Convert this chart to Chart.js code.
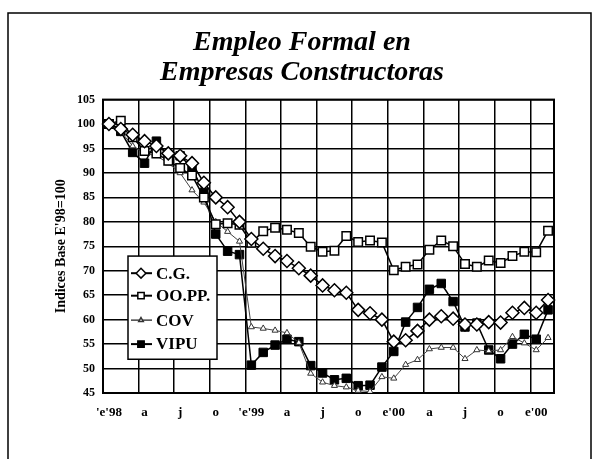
<!DOCTYPE html>
<html>
<head>
<meta charset="utf-8">
<script src="https://cdn.jsdelivr.net/npm/chart.js@4.4.1/dist/chart.umd.min.js"></script>
<style>
  html, body { margin: 0; padding: 0; background: #fff; }
</style>
</head>
<body>
<canvas id="chart--empleo" width="606" height="459"></canvas>
<script>
// meses: enero 1998 a febrero 2001
const meses = [
    'e98', 'f98', 'm98', 'a98', 'my98', 'jn98', 'jl98', 'ag98', 's98', 'o98', 'n98', 'd98',
    'e99', 'f99', 'm99', 'a99', 'my99', 'jn99', 'jl99', 'ag99', 's99', 'o99', 'n99', 'd99',
    'e00', 'f00', 'm00', 'a00', 'my00', 'jn00', 'jl00', 'ag00', 's00', 'o00', 'n00', 'd00',
    'e01', 'f01'
];
// una etiqueta cada tres meses
const etiquetas = ["'e'98", 'a', 'j', 'o', "'e'99", 'a', 'j', 'o', "e'00", 'a', 'j', 'o', "e'00"];

const cg = [100, 99, 97.8, 96.5, 95.5, 94, 93.5, 92, 88, 85, 83, 80,
    76.5, 74.5, 73, 72, 70.5, 69, 67, 66, 65.5, 62, 61.3, 60,
    55.5, 55.8, 57.7, 60, 60.7, 60.2, 59, 59, 59.5, 59.4, 61.4, 62.4,
    61.4, 64];
const oopp = [100, 100.7, 97.3, 94.5, 94, 92.5, 91, 89.5, 85, 79.5, 79.7, 79.4,
    75.7, 78.1, 78.8, 78.4, 77.7, 74.9, 73.9, 74.1, 77.1, 75.9, 76.2, 75.8,
    70.1, 70.8, 71.3, 74.3, 76.2, 75, 71.4, 70.8, 72.1, 71.6, 73, 73.9,
    73.8, 78.2];
const cov = [100, 98.5, 95.5, 94, 93.5, 92, 90, 86.5, 84, 80, 78, 76,
    58.5, 58.2, 57.8, 57.3, 55.3, 49, 47.2, 46.5, 46.2, 45.5, 45.3, 48.3,
    48, 50.8, 51.8, 54, 54.3, 54.3, 52, 53.8, 53.6, 53.8, 56.5, 55.2,
    53.8, 56.3];
const vipu = [100, 98.5, 94.2, 92, 96.5, 93.5, 93.5, 91, 86, 77.5, 74, 73.3,
    50.7, 53.3, 54.8, 56, 55.5, 50.6, 49.1, 47.7, 48, 46.5, 46.6, 50.3,
    53.5, 59.5, 62.5, 66.2, 67.4, 63.7, 58.5, 59.3, 53.8, 52, 55, 57,
    56, 62];

const fuente = '"Liberation Serif", "Times New Roman", serif';

// marco exterior y borde del area del grafico
const marco = {
    id: 'marco',
    beforeDraw(chart) {
        const ctx = chart.ctx;
        ctx.save();
        ctx.fillStyle = '#fff';
        ctx.fillRect(0, 0, chart.width, chart.height);
        ctx.strokeStyle = '#000';
        ctx.lineWidth = 1.5;
        ctx.beginPath();
        ctx.moveTo(8, chart.height);
        ctx.lineTo(8, 13);
        ctx.lineTo(591, 13);
        ctx.lineTo(591, chart.height);
        ctx.stroke();
        ctx.restore();
    },
    beforeDatasetsDraw(chart) {
        const {ctx, chartArea: a} = chart;
        ctx.save();
        ctx.strokeStyle = '#000';
        ctx.lineWidth = 2;
        ctx.strokeRect(a.left, a.top, a.right - a.left, a.bottom - a.top);
        ctx.restore();
    }
};

// leyenda dentro del grafico, con recuadro
const leyenda = {
    id: 'leyenda',
    afterDatasetsDraw(chart) {
        const {ctx, chartArea: a} = chart;
        const y = chart.scales.y;
        const x0 = a.left + 25, w = 89;
        const top = y.getPixelForValue(73), bottom = y.getPixelForValue(51.9);
        const filas = [69.5, 64.9, 59.9, 55];
        ctx.save();
        ctx.fillStyle = '#fff';
        ctx.fillRect(x0, top, w, bottom - top);
        ctx.strokeStyle = '#000';
        ctx.lineWidth = 1.5;
        ctx.strokeRect(x0, top, w, bottom - top);
        chart.data.datasets.forEach((ds, i) => {
            const cy = y.getPixelForValue(filas[i]);
            ctx.strokeStyle = ds.borderColor;
            ctx.lineWidth = ds.borderWidth + 0.5;
            ctx.beginPath();
            ctx.moveTo(x0 + 3, cy);
            ctx.lineTo(x0 + 24, cy);
            ctx.stroke();
            ctx.fillStyle = ds.pointBackgroundColor;
            ctx.strokeStyle = ds.pointBorderColor;
            ctx.lineWidth = 1.5;
            Chart.helpers.drawPoint(ctx, {
                pointStyle: ds.pointStyle,
                radius: ds.pointRadius * 0.75,
                borderWidth: 1.5,
                rotation: 0
            }, x0 + 13, cy);
            ctx.fillStyle = '#000';
            ctx.font = 'bold 17px ' + fuente;
            ctx.textBaseline = 'middle';
            ctx.textAlign = 'left';
            ctx.fillText(ds.label, x0 + 28, cy + 1);
        });
        ctx.restore();
    }
};

const data_empleo = {
    labels: meses,
    datasets: [{
            label: 'C.G.',
            data: cg,
            borderColor: '#000',
            borderWidth: 1.5,
            pointStyle: 'rectRot',
            pointRadius: 6.5,
            pointBackgroundColor: '#fff',
            pointBorderColor: '#000',
            pointBorderWidth: 1.5
        },
        {
            label: 'OO.PP.',
            data: oopp,
            borderColor: '#000',
            borderWidth: 1.5,
            pointStyle: 'rect',
            pointRadius: 6,
            pointBackgroundColor: '#fff',
            pointBorderColor: '#000',
            pointBorderWidth: 1.5
        },
        {
            label: 'COV',
            data: cov,
            borderColor: '#444',
            borderWidth: 1,
            pointStyle: 'triangle',
            pointRadius: 3.5,
            pointBackgroundColor: '#fff',
            pointBorderColor: '#333',
            pointBorderWidth: 1
        },
        {
            label: 'VIPU',
            data: vipu,
            borderColor: '#000',
            borderWidth: 1.5,
            pointStyle: 'rect',
            pointRadius: 6,
            pointBackgroundColor: '#000',
            pointBorderColor: '#000',
            pointBorderWidth: 1
        }
    ]
};

const config_empleo = {
    type: 'line',
    data: data_empleo,
    plugins: [marco, leyenda],
    options: {
        responsive: false,
        animation: false,
        devicePixelRatio: 1,
        layout: {
            padding: {left: 50, right: 52, top: 0, bottom: 26}
        },
        elements: {
            line: {tension: 0}
        },
        plugins: {
            legend: {display: false},
            tooltip: {enabled: false},
            title: {
                display: true,
                text: ['Empleo Formal en', 'Empresas Constructoras'],
                color: '#000',
                font: {family: fuente, size: 28, style: 'italic', weight: 'bold', lineHeight: 1.1},
                padding: {top: 27, bottom: 11}
            }
        },
        scales: {
            x: {
                offset: true,
                grid: {
                    offset: true,
                    drawTicks: false,
                    lineWidth: 1.5,
                    color: (c) => (c.index % 3 === 0 ? '#000' : 'rgba(0,0,0,0)')
                },
                border: {color: '#000', width: 2},
                ticks: {
                    autoSkip: false,
                    maxRotation: 0,
                    padding: 12,
                    color: '#000',
                    font: {family: fuente, size: 13, weight: 'bold'},
                    callback: (v, i) => (i % 3 === 0 ? etiquetas[i / 3] : '')
                },
                afterFit: (s) => { s.height = 40; }
            },
            y: {
                min: 45,
                max: 105,
                grid: {drawTicks: false, lineWidth: 1.5, color: '#000'},
                border: {color: '#000', width: 2},
                ticks: {
                    stepSize: 5,
                    padding: 8,
                    color: '#000',
                    font: {family: fuente, size: 12, weight: 'bold'}
                },
                title: {
                    display: true,
                    text: "Indices Base E'98=100",
                    color: '#000',
                    padding: {top: 3, bottom: 4},
                    font: {family: fuente, size: 14, weight: 'bold'}
                },
                afterFit: (s) => { s.width = 53; }
            }
        }
    }
};

var chartEmpleo = new Chart(
    document.getElementById('chart--empleo'),
    config_empleo
);
</script>
</body>
</html>
